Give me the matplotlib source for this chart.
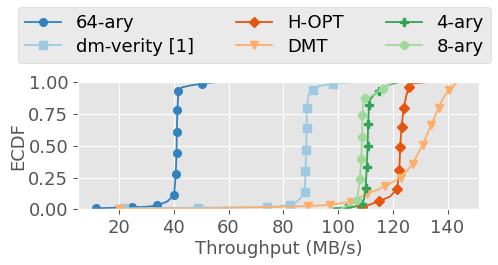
import matplotlib
matplotlib.use("Agg")
import matplotlib.pyplot as plt

plt.style.use("ggplot")
plt.rcParams['font.family'] = ['DejaVu Sans']

labels = ["64-ary", "dm-verity [1]", "H-OPT", "DMT", "4-ary", "8-ary"]
colors = ["#3182bd", "#9ecae1", "#e6550d", "#fdae6b", "#31a354", "#a1d99b"]
markers = ["o", "s", "D", "v", "P", "8"]
msizes = [5.5, 5.5, 5.5, 5.5, 5.5, 5.5]

# ECDF curves (throughput MB/s, ecdf) + indices carrying markers
x_64 = [11.5, 18, 24.6, 30, 33.9, 37.5, 40.1, 40.7, 41.0, 41.1, 41.3, 41.7, 43, 46, 50.4, 55]
y_64 = [0.008, 0.012, 0.016, 0.02, 0.03, 0.06, 0.11, 0.28, 0.44, 0.61, 0.78, 0.93, 0.96, 0.975, 0.99, 1.0]
m_64 = [0, 2, 4, 6, 7, 8, 9, 10, 11, 14]

x_dm = [21.8, 35, 48.8, 60, 74, 78, 82.3, 85, 86.8, 87.9, 88.1, 88.4, 88.5, 88.6, 89.2, 90.7, 93, 98.2, 105.8]
y_dm = [0.008, 0.01, 0.012, 0.015, 0.018, 0.022, 0.034, 0.06, 0.1, 0.14, 0.30, 0.47, 0.64, 0.80, 0.9, 0.94, 0.97, 0.99, 1.0]
m_dm = [0, 2, 4, 6, 9, 10, 11, 12, 13, 15, 17]

x_hopt = [108.3, 108.7, 112, 115, 119, 121.6, 122.4, 122.7, 123.2, 124, 125, 125.8, 127, 132]
y_hopt = [0.008, 0.015, 0.04, 0.065, 0.1, 0.16, 0.31, 0.49, 0.65, 0.80, 0.9, 0.96, 0.99, 1.0]
m_hopt = [1, 3, 5, 6, 7, 8, 9, 11]

x_dmt = [20, 50, 89.1, 97.1, 104.6, 110.4, 114, 117, 123, 125, 127.4, 129, 131, 133.9, 136.8, 138, 140.4, 143.6]
y_dmt = [0.005, 0.006, 0.025, 0.034, 0.06, 0.12, 0.15, 0.18, 0.25, 0.3, 0.36, 0.43, 0.51, 0.66, 0.80, 0.86, 0.94, 1.0]
m_dmt = [0, 2, 3, 4, 5, 7, 8, 10, 12, 13, 14, 16]

x_4 = [98.5, 103, 106, 108.8, 109.5, 110.1, 110.5, 110.8, 111.0, 111.3, 111.6, 113, 115, 118.5, 122]
y_4 = [0.008, 0.012, 0.02, 0.04, 0.08, 0.17, 0.335, 0.50, 0.67, 0.82, 0.86, 0.9, 0.93, 0.98, 1.0]
m_4 = [1, 3, 5, 6, 7, 8, 9, 12]

x_8 = [101.5, 104.4, 106, 107, 108, 108.5, 108.8, 108.9, 109.3, 110, 112, 114, 116.5, 118.5, 120]
y_8 = [0.008, 0.04, 0.05, 0.075, 0.24, 0.40, 0.57, 0.74, 0.86, 0.875, 0.89, 0.92, 0.95, 0.98, 1.0]
m_8 = [3, 4, 5, 6, 7, 9, 12]

curves = [(x_64, y_64, m_64), (x_dm, y_dm, m_dm), (x_hopt, y_hopt, m_hopt),
          (x_dmt, y_dmt, m_dmt), (x_4, y_4, m_4), (x_8, y_8, m_8)]

fig = plt.figure(figsize=(4.98, 2.65), dpi=100)
ax = fig.add_axes([78 / 498, 1 - 209.3 / 265, (479 - 78) / 498, (209.3 - 82.3) / 265])

for (xs, ys, ms), lab, c, mk, sz in zip(curves, labels, colors, markers, msizes):
    ax.plot(xs, ys, color=c, marker=mk, markevery=ms, markersize=sz, lw=1.3, label=lab)

ax.set_xlim(5, 151.5)
ax.set_ylim(0, 1)
ax.set_xticks([20, 40, 60, 80, 100, 120, 140])
ax.set_yticks([0, 0.25, 0.5, 0.75, 1.0])
ax.set_yticklabels(["0.00", "0.25", "0.50", "0.75", "1.00"])
ax.tick_params(labelsize=13, colors="#555555")
ax.set_xlabel("Throughput (MB/s)", fontsize=13, color="#555555", labelpad=2)
ax.set_ylabel("ECDF", fontsize=13, color="#555555", labelpad=1)

h, l = ax.get_legend_handles_labels()
fig.legend(h, l, ncol=3, loc="upper left", bbox_to_anchor=(18 / 498, 1 - 7 / 265),
           borderaxespad=0, fontsize=13, columnspacing=2.35, labelspacing=0.3)

fig.savefig("out.png", dpi=100)
